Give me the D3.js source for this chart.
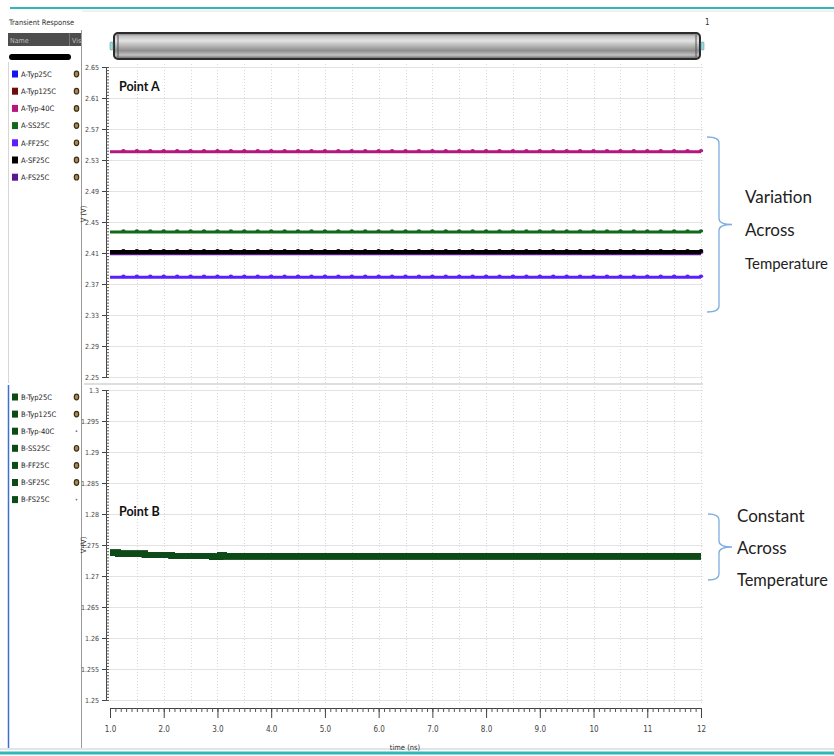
<!DOCTYPE html>
<html>
<head>
<meta charset="utf-8">
<script src="https://cdn.jsdelivr.net/npm/d3@7"></script>
<style>
  body { margin: 0; background: #fff; }
  svg { display: block; }
  .narrow { font-family: "Liberation Sans Narrow", "DejaVu Sans Condensed", "Liberation Sans", sans-serif; }
</style>
</head>
<body>
<svg id="chart" width="834" height="756"></svg>
<script>
// ---- data ----
const seriesA = ["A-Typ25C", "A-Typ125C", "A-Typ-40C", "A-SS25C", "A-FF25C", "A-SF25C", "A-FS25C"];
const valuesA = [2.4113, 2.4112, 2.5407, 2.4371, 2.3786, 2.4113, 2.4098];

const seriesB = ["B-Typ25C", "B-Typ125C", "B-Typ-40C", "B-SS25C", "B-FF25C", "B-SF25C", "B-FS25C"];
const iconsB = [true, true, false, true, true, true, false];
// Point B settles in small steps during the first 3 ns
const timesB = [1.0, 1.15, 1.65, 2.15, 2.9, 3.05, 3.12, 12.0];
const valuesB = [1.27376, 1.2736, 1.27339, 1.27323, 1.27311, 1.2734, 1.27318, 1.27318];

const xTicks = [1, 2, 3, 4, 5, 6, 7, 8, 9, 10, 11, 12];
const xTickLabels = ["1.0", "2.0", "3.0", "4.0", "5.0", "6.0", "7.0", "8.0", "9.0", "10", "11", "12"];
const yTicksA = [2.25, 2.29, 2.33, 2.37, 2.41, 2.45, 2.49, 2.53, 2.57, 2.61, 2.65];
const yTicksB = [1.25, 1.255, 1.26, 1.265, 1.27, 1.275, 1.28, 1.285, 1.29, 1.295, 1.3];
const yTickLabelsB = ["1.25", "1.255", "1.26", "1.265", "1.27", "1.275", "1.28", "1.285", "1.29", "1.295", "1.3"];

// ---- styles ----
const colorA = {
  "A-Typ25C": "#1414f0", "A-Typ125C": "#6e0b0b", "A-Typ-40C": "#b3187f", "A-SS25C": "#13691a",
  "A-FF25C": "#5b1fff", "A-SF25C": "#000000", "A-FS25C": "#5d168f"
};
const drawOrderA = ["A-Typ25C", "A-Typ125C", "A-FS25C", "A-SF25C", "A-SS25C", "A-FF25C", "A-Typ-40C"];
const colorB = "#0c4a17";

const svg = d3.select("#chart");
const defs = svg.append("defs");

// ---- scales ----
const x = d3.scaleLinear().domain([1, 12]).range([110, 701]);
const yA = d3.scaleLinear().domain([2.25, 2.65]).range([377, 67]);
const yB = d3.scaleLinear().domain([1.25, 1.30]).range([700, 390]);

const plotL = 106, plotR = 703;

// ---- window frame ----
svg.append("line").attr("x1", 10).attr("x2", 834).attr("y1", 8).attr("y2", 8)
  .attr("stroke", "#2fb7b9").attr("stroke-width", 2);
svg.append("line").attr("x1", 82).attr("x2", 834).attr("y1", 11).attr("y2", 11)
  .attr("stroke", "#e2e2e2").attr("stroke-width", 1);
svg.append("line").attr("x1", 0).attr("x2", 834).attr("y1", 749).attr("y2", 749)
  .attr("stroke", "#c8c8c8").attr("stroke-width", 1);
svg.append("line").attr("x1", 0).attr("x2", 834).attr("y1", 753).attr("y2", 753)
  .attr("stroke", "#2fb7b9").attr("stroke-width", 3);

// left pane borders
svg.append("line").attr("x1", 81.5).attr("x2", 81.5).attr("y1", 30).attr("y2", 748)
  .attr("stroke", "#9a9a9a").attr("stroke-width", 1);
svg.append("line").attr("x1", 8.5).attr("x2", 8.5).attr("y1", 62).attr("y2", 383)
  .attr("stroke", "#d6d6d6").attr("stroke-width", 1);
svg.append("line").attr("x1", 8.5).attr("x2", 8.5).attr("y1", 385).attr("y2", 748)
  .attr("stroke", "#3f6fd0").attr("stroke-width", 1.5);

svg.append("text").attr("class", "narrow").attr("x", 9).attr("y", 25)
  .attr("font-size", 7.5).attr("fill", "#333").text("Transient Response");

// header bar
svg.append("rect").attr("x", 8).attr("y", 33).attr("width", 73).attr("height", 13).attr("fill", "#4d4d4d");
svg.append("line").attr("x1", 69.5).attr("x2", 69.5).attr("y1", 33).attr("y2", 46).attr("stroke", "#777");
svg.append("text").attr("class", "narrow").attr("x", 10).attr("y", 42.5).attr("font-size", 7)
  .attr("fill", "#bdbdbd").text("Name");
svg.append("text").attr("class", "narrow").attr("x", 72).attr("y", 42.5).attr("font-size", 7)
  .attr("fill", "#bdbdbd").text("Vis");
svg.append("rect").attr("x", 9).attr("y", 54).attr("width", 62).attr("height", 6).attr("rx", 3)
  .attr("fill", "#000");

// ---- legends ----
function gear(g, cx, cy) {
  g.append("ellipse").attr("cx", cx).attr("cy", cy).attr("rx", 2.2).attr("ry", 2.8)
    .attr("fill", "#a88a55").attr("stroke", "#3f2c12").attr("stroke-width", 1.2);
}
const legA = svg.append("g");
seriesA.forEach((name, i) => {
  const yy = 74 + i * 17.2;
  legA.append("rect").attr("x", 12).attr("y", yy - 3.5).attr("width", 6).attr("height", 7)
    .attr("fill", colorA[name]);
  legA.append("text").attr("class", "narrow").attr("x", 21).attr("y", yy + 2.8)
    .attr("font-size", 7.5).attr("fill", "#222").text(name);
  gear(legA, 76.5, yy);
});
const legB = svg.append("g");
seriesB.forEach((name, i) => {
  const yy = 397 + i * 17.1;
  legB.append("rect").attr("x", 12).attr("y", yy - 3.5).attr("width", 6).attr("height", 7)
    .attr("fill", colorB);
  legB.append("text").attr("class", "narrow").attr("x", 21).attr("y", yy + 2.8)
    .attr("font-size", 7.5).attr("fill", "#222").text(name);
  if (iconsB[i]) gear(legB, 76.5, yy);
  else legB.append("circle").attr("cx", 76.5).attr("cy", yy).attr("r", 0.9).attr("fill", "#777");
});

// ---- range bar above plot ----
const grad = defs.append("linearGradient").attr("id", "barGrad")
  .attr("x1", 0).attr("x2", 0).attr("y1", 0).attr("y2", 1);
[[0, "#6a6a6a"], [0.12, "#c4c4c4"], [0.3, "#e2e2e2"], [0.5, "#b4b4b4"], [0.68, "#8e8e8e"],
 [0.85, "#c2c2c2"], [1, "#5a5a5a"]].forEach(([o, c]) =>
  grad.append("stop").attr("offset", o).attr("stop-color", c));
svg.append("rect").attr("x", 114).attr("y", 33).attr("width", 586).attr("height", 26).attr("rx", 4)
  .attr("fill", "url(#barGrad)").attr("stroke", "#2b2b2b").attr("stroke-width", 2);
[118, 696].forEach(bx => svg.append("line").attr("x1", bx).attr("x2", bx).attr("y1", 35).attr("y2", 57)
  .attr("stroke", "#555").attr("stroke-width", 1));
[111.5, 702.5].forEach(bx => svg.append("rect").attr("x", bx - 1.5).attr("y", 42).attr("width", 3).attr("height", 8)
  .attr("rx", 1).attr("fill", "#9adbe0").attr("stroke", "#5b8a8e").attr("stroke-width", 0.5));
svg.append("text").attr("class", "narrow").attr("x", 705).attr("y", 25).attr("font-size", 8)
  .attr("fill", "#333").text("1");

// ---- panel separator ----
svg.append("line").attr("x1", 84).attr("x2", plotR).attr("y1", 384).attr("y2", 384)
  .attr("stroke", "#bdbdbd").attr("stroke-width", 1);

// ---- grids ----
function grid(yScale, yTicks, top, bottom) {
  const g = svg.append("g");
  g.selectAll("line.h").data(yTicks).join("line")
    .attr("x1", plotL).attr("x2", plotR)
    .attr("y1", d => Math.round(yScale(d)) + 0.5).attr("y2", d => Math.round(yScale(d)) + 0.5)
    .attr("stroke", "#e3e3e3").attr("stroke-width", 1);
  g.selectAll("line.v").data(d3.range(1.5, 12.01, 0.5)).join("line")
    .attr("x1", d => Math.round(x(d)) + 0.5).attr("x2", d => Math.round(x(d)) + 0.5)
    .attr("y1", top).attr("y2", bottom)
    .attr("stroke", "#d9d9d9").attr("stroke-width", 1).attr("stroke-dasharray", "1,2");
}
grid(yA, yTicksA, 64, 383);
grid(yB, yTicksB, 387, 704);

// ---- y axes ----
function yAxis(yScale, ticks, labels, minorStep, labelY) {
  const g = svg.append("g").attr("transform", `translate(${plotL},0)`);
  const lo = yScale.domain()[0], hi = yScale.domain()[1];
  const minor = d3.range(lo, hi + minorStep / 2, minorStep);
  g.call(d3.axisRight(yScale).tickValues(minor).tickSize(3).tickSizeOuter(0).tickFormat(""));
  g.call(gg => gg.select(".domain").attr("stroke", "#444"));
  g.selectAll(".tick line").attr("stroke", "#555");
  const gm = svg.append("g").attr("transform", `translate(${plotL},0)`);
  gm.call(d3.axisLeft(yScale).tickValues(ticks).tickSize(4).tickPadding(3)
    .tickFormat((d, i) => labels[i]));
  gm.select(".domain").remove();
  gm.selectAll(".tick line").attr("stroke", "#444");
  gm.selectAll(".tick text").attr("class", "narrow").attr("font-size", 7).attr("fill", "#444");
  svg.append("text").attr("class", "narrow").attr("transform", `translate(86,${labelY}) rotate(-90)`)
    .attr("text-anchor", "middle").attr("font-size", 7.5).attr("fill", "#333").text("V (V)");
}
yAxis(yA, yTicksA, yTicksA.map(d => d.toFixed(2)), 0.004, 214);
yAxis(yB, yTicksB, yTickLabelsB, 0.0005, 545);

// ---- x axis ----
const gx = svg.append("g").attr("transform", "translate(0,708)");
gx.call(d3.axisBottom(x).tickValues(d3.range(1, 12.001, 0.1)).tickSize(4).tickSizeOuter(0).tickFormat(""));
gx.select(".domain").attr("stroke", "#444").attr("stroke-width", 1.2);
gx.selectAll(".tick line").attr("stroke", "#555");
const gx2 = svg.append("g").attr("transform", "translate(0,708)");
gx2.call(d3.axisBottom(x).tickValues(xTicks).tickSize(10).tickPadding(8)
  .tickFormat((d, i) => xTickLabels[i]));
gx2.select(".domain").remove();
gx2.selectAll(".tick line").attr("stroke", "#444");
gx2.selectAll(".tick text").attr("class", "narrow").attr("font-size", 8).attr("fill", "#444");
svg.append("text").attr("class", "narrow").attr("x", 405).attr("y", 750).attr("text-anchor", "middle")
  .attr("font-size", 7.5).attr("fill", "#333").text("time (ns)");

// ---- Point A waveforms ----
const sampleTimes = d3.range(1, 12.001, 0.25);
const lineA = d3.line().x(d => x(d.t)).y(d => yA(d.v));
const gA = svg.append("g");
drawOrderA.forEach(name => {
  const v = valuesA[seriesA.indexOf(name)];
  const pts = sampleTimes.map(t => ({ t, v }));
  const w = name === "A-SF25C" ? 4 : (name === "A-FS25C" ? 4 : 3);
  gA.append("path").datum(pts).attr("d", lineA).attr("fill", "none")
    .attr("stroke", colorA[name]).attr("stroke-width", w);
  gA.selectAll(null).data(pts.slice(1)).join("ellipse")
    .attr("cx", d => x(d.t)).attr("cy", d => yA(d.v) - 1)
    .attr("rx", 2.2).attr("ry", 1.8).attr("fill", colorA[name]);
});

// ---- Point B waveforms ----
const lineB = d3.line().x(d => x(d.t)).y(d => yB(d.v)).curve(d3.curveStepAfter);
const gB = svg.append("g");
seriesB.forEach(() => {
  const pts = timesB.map((t, i) => ({ t, v: valuesB[i] }));
  gB.append("path").datum(pts).attr("d", lineB).attr("fill", "none")
    .attr("stroke", colorB).attr("stroke-width", 6);
});

// ---- titles ----
svg.append("text").attr("x", 119).attr("y", 91).attr("font-family", "Lato, sans-serif")
  .attr("font-weight", "bold").attr("font-size", 12.5).attr("fill", "#111").text("Point A");
svg.append("text").attr("x", 119).attr("y", 516).attr("font-family", "Lato, sans-serif")
  .attr("font-weight", "bold").attr("font-size", 12.5).attr("fill", "#111").text("Point B");

// ---- annotations ----
function brace(top, bottom, xl, xr, tip) {
  const mid = (top + bottom) / 2;
  const r = 6;
  const p = d3.path();
  p.moveTo(xl, top);
  p.quadraticCurveTo(xr, top, xr, top + r);
  p.lineTo(xr, mid - r);
  p.quadraticCurveTo(xr, mid, tip, mid);
  p.quadraticCurveTo(xr, mid, xr, mid + r);
  p.lineTo(xr, bottom - r);
  p.quadraticCurveTo(xr, bottom, xl, bottom);
  svg.append("path").attr("d", p.toString()).attr("fill", "none")
    .attr("stroke", "#7eaee0").attr("stroke-width", 1.3);
}
brace(137, 312, 707, 719, 732);
brace(514, 580, 708, 719, 732);

function label(lines, x0, y0, dy, size) {
  lines.forEach((s, i) => {
    const t = svg.append("text").attr("x", x0).attr("y", y0 + i * dy)
      .attr("font-family", "Lato, sans-serif").attr("font-size", size).attr("fill", "#222").text(s);
    // shrink the long word so it stays clear of the right edge
    const room = 828 - x0;
    const w = t.node().getComputedTextLength();
    if (w > room) t.attr("font-size", size * room / w);
  });
}
label(["Variation", "Across", "Temperature"], 745, 203, 33, 17);
label(["Constant", "Across", "Temperature"], 737, 522, 32, 17);
</script>
</body>
</html>
